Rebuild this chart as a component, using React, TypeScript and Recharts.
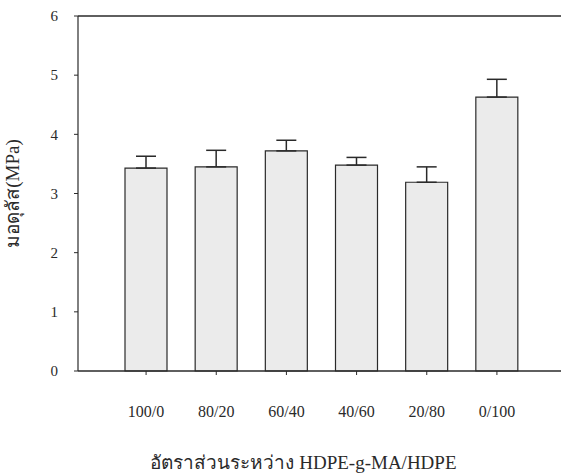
import React from 'react';
import { BarChart, Bar, XAxis, YAxis, ErrorBar, ReferenceLine } from 'recharts';

const categories = ['100/0', '80/20', '60/40', '40/60', '20/80', '0/100'];
const modulus = [3.43, 3.45, 3.72, 3.48, 3.19, 4.63];
const errorUp = [0.2, 0.28, 0.18, 0.13, 0.26, 0.3];
const yTicks = [0, 1, 2, 3, 4, 5, 6];

const data = categories.map((c, i) => ({
  name: c,
  value: modulus[i],
  err: [0, errorUp[i]],
}));

const FONT = '"Liberation Serif", "DejaVu Serif", serif';
const INK = '#2a2a2a';

export default function App() {
  return (
    <div style={{ position: 'absolute', left: 0, top: 0, background: '#fff' }}>
      <BarChart
        width={561}
        height={476}
        data={data}
        margin={{ top: 16, right: 0, left: 0, bottom: 0 }}
        barCategoryGap={0}
      >
        <ReferenceLine y={6} stroke={INK} strokeWidth={1.3} ifOverflow="extendDomain" />
        <XAxis
          dataKey="name"
          height={105}
          padding={{ left: 33, right: 29 }}
          axisLine={{ stroke: INK, strokeWidth: 1.3 }}
          tickLine={{ stroke: INK }}
          tickSize={4}
          tickMargin={31}
          tick={{ fill: INK, fontFamily: FONT, fontSize: 16 }}
          label={{
            value: 'อัตราส่วนระหว่าง HDPE-g-MA/HDPE',
            position: 'insideBottom',
            offset: 7,
            dx: -16,
            fill: INK,
            fontFamily: FONT,
            fontSize: 19,
          }}
        />
        <YAxis
          width={78}
          domain={[0, 6]}
          ticks={yTicks}
          interval={0}
          axisLine={{ stroke: INK, strokeWidth: 1.2 }}
          tickLine={{ stroke: INK }}
          tickSize={4}
          tickMargin={16}
          tick={{ fill: INK, fontFamily: FONT, fontSize: 15 }}
          label={{
            value: 'มอดุลัส(MPa)',
            angle: -90,
            position: 'insideLeft',
            offset: 12,
            fill: INK,
            fontFamily: FONT,
            fontSize: 19,
            style: { textAnchor: 'middle' },
          }}
        />
        <Bar
          dataKey="value"
          barSize={42}
          fill="#ebebeb"
          stroke={INK}
          strokeWidth={1.2}
          isAnimationActive={false}
        >
          <ErrorBar dataKey="err" width={10} stroke={INK} strokeWidth={1.5} direction="y" />
        </Bar>
      </BarChart>
    </div>
  );
}
